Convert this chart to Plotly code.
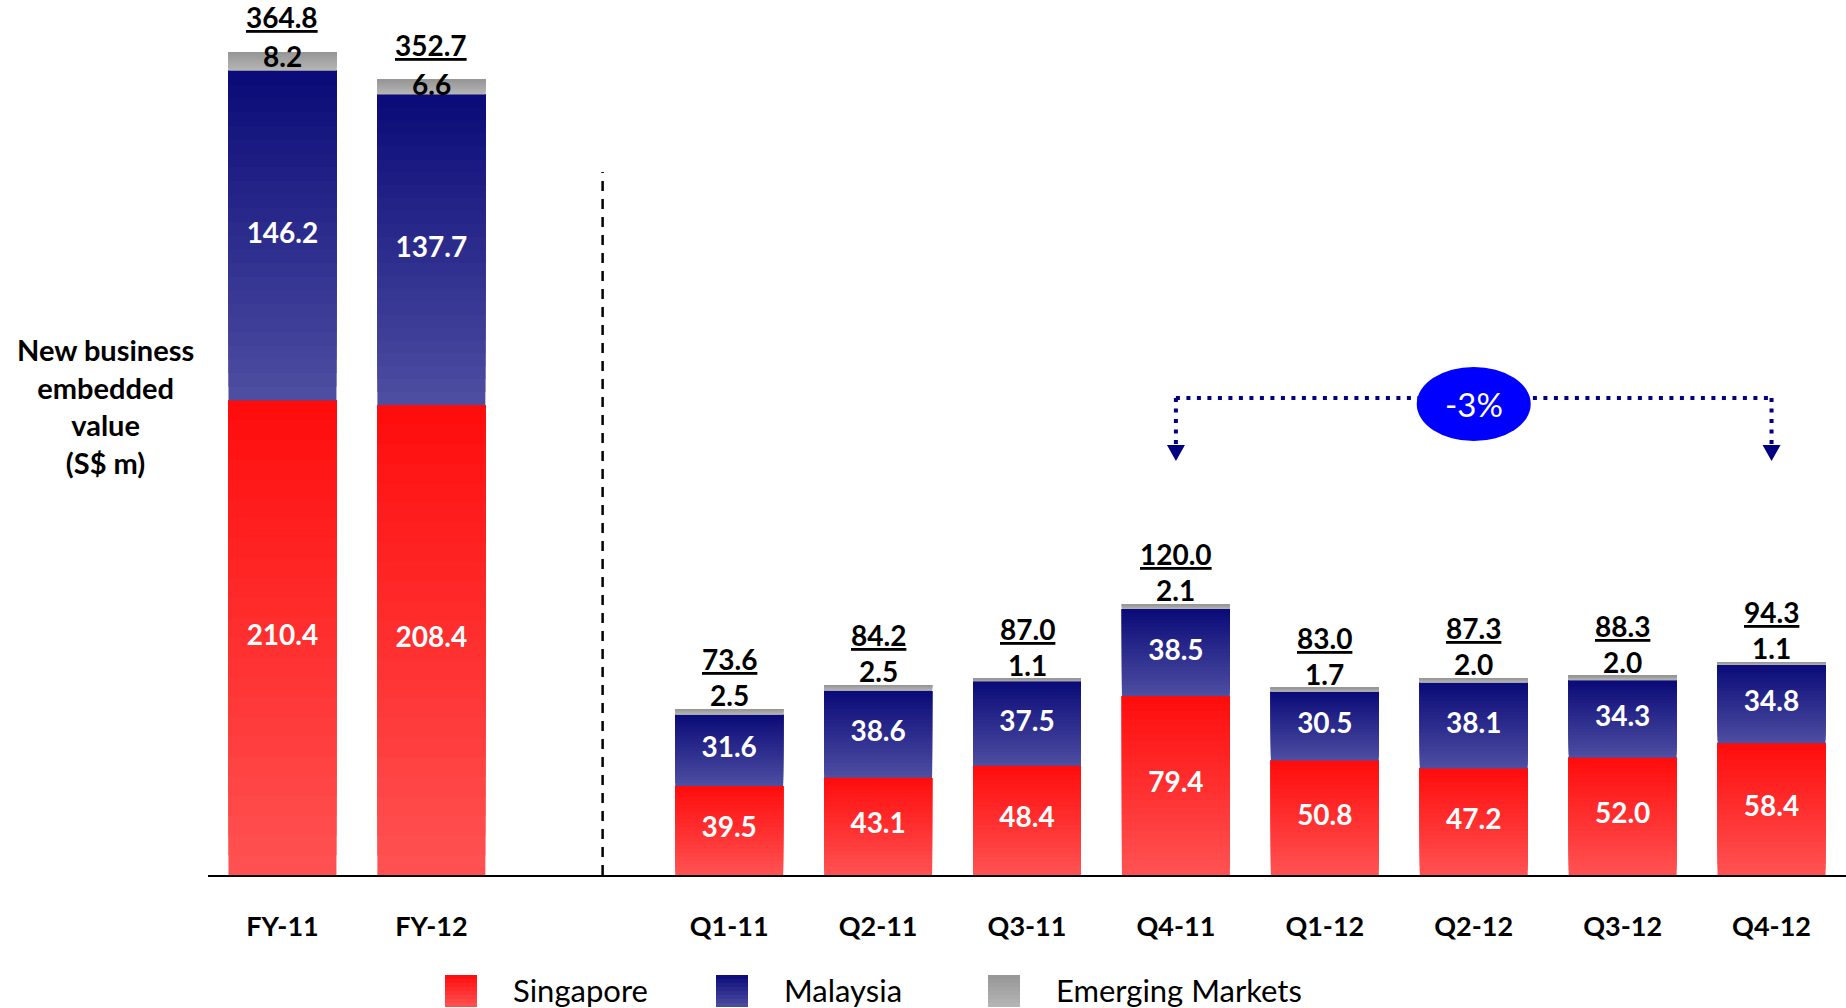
import plotly.graph_objects as go

# ---------------- data ----------------
fy_labels = ["FY-11", "FY-12"]
q_labels = ["Q1-11", "Q2-11", "Q3-11", "Q4-11", "Q1-12", "Q2-12", "Q3-12", "Q4-12"]
categories = fy_labels + q_labels

singapore = [210.4, 208.4, 39.5, 43.1, 48.4, 79.4, 50.8, 47.2, 52.0, 58.4]
malaysia = [146.2, 137.7, 31.6, 38.6, 37.5, 38.5, 30.5, 38.1, 34.3, 34.8]
emerging = [8.2, 6.6, 2.5, 2.5, 1.1, 2.1, 1.7, 2.0, 2.0, 1.1]
totals = [364.8, 352.7, 73.6, 84.2, 87.0, 120.0, 83.0, 87.3, 88.3, 94.3]

series_names = ["Singapore", "Malaysia", "Emerging Markets"]
change_label = "-3%"
change_from = "Q4-11"
change_to = "Q4-12"
y_title = "New business<br>embedded<br>value<br>(S$ m)"

# ---------------- styling ----------------
W, H = 1846, 1008
ML, MR, MT, MB = 208, 0, 18, 133
PW, PH = W - ML - MR, H - MT - MB
FONT = "Lato"
grad = {  # (top colour, bottom colour)
    "Singapore": ((255, 12, 12), (255, 82, 82)),
    "Malaysia": ((10, 10, 120), (78, 78, 162)),
    "Emerging Markets": ((150, 150, 150), (182, 182, 182)),
}
NSLICE = 24

# x positions: FY group, one empty slot, then the quarters
x_pos = list(range(len(fy_labels))) + [len(fy_labels) + 1 + i for i in range(len(q_labels))]
pos_of = dict(zip(categories, x_pos))


def mix(c_bot, c_top, f):
    return "rgb(%d,%d,%d)" % tuple(round(b + (t - b) * f) for b, t in zip(c_bot, c_top))


def px_to_paper_x(px):
    return (px - ML) / PW


def px_to_paper_y(py):
    return (H - MB - py) / PH


fig = go.Figure()

# gradient bars: each slice runs from its start to the segment top, later slices overlay earlier ones
bases = [0.0] * len(categories)
for name, vals in zip(series_names, [singapore, malaysia, emerging]):
    ctop, cbot = grad[name]
    for k in range(NSLICE):
        f = (k + 0.5) / NSLICE
        fig.add_trace(go.Bar(
            x=x_pos,
            y=[v * (NSLICE - k) / NSLICE for v in vals],
            base=[b + v * k / NSLICE for b, v in zip(bases, vals)],
            marker=dict(color=mix(cbot, ctop, f), line=dict(width=0)),
            showlegend=False, hoverinfo="skip",
        ))
    bases = [b + v for b, v in zip(bases, vals)]

# inside labels (white)
lab_font = dict(family=FONT, size=28, color="white", weight="bold")
fig.add_trace(go.Scatter(
    x=x_pos, y=[s / 2 for s in singapore], mode="text",
    text=["%.1f" % v for v in singapore], textfont=lab_font,
    showlegend=False, hoverinfo="skip"))
fig.add_trace(go.Scatter(
    x=x_pos, y=[s + m / 2 for s, m in zip(singapore, malaysia)], mode="text",
    text=["%.1f" % v for v in malaysia], textfont=lab_font,
    showlegend=False, hoverinfo="skip"))

annotations = []
for i, (xp, e, t) in enumerate(zip(x_pos, emerging, totals)):
    is_fy = i < len(fy_labels)
    g_shift = -4 if is_fy else 14
    t_shift = 35 if is_fy else 50
    annotations.append(dict(
        x=xp, y=bases[i], xref="x", yref="y", text="<b>%.1f</b>" % e, showarrow=False,
        yanchor="middle", yshift=g_shift,
        font=dict(family=FONT, size=28, color="black")))
    annotations.append(dict(
        x=xp, y=bases[i], xref="x", yref="y", text="<b><u>%.1f</u></b>" % t, showarrow=False,
        yanchor="middle", yshift=t_shift,
        font=dict(family=FONT, size=28, color="black")))

# y-axis title
annotations.append(dict(
    x=px_to_paper_x(105), y=px_to_paper_y(406), xref="paper", yref="paper",
    text="<b>" + y_title + "</b>", showarrow=False, xanchor="center", yanchor="middle",
    align="center", font=dict(family=FONT, size=29, color="black")))

shapes = []
# dashed separator
sep_x = (pos_of[fy_labels[-1]] + pos_of[q_labels[0]]) / 2 + 0.15
shapes.append(dict(type="line", xref="x", yref="paper", x0=sep_x, x1=sep_x,
                   y0=0, y1=px_to_paper_y(172),
                   line=dict(color="black", width=2.5, dash="10px,8px")))

# change bracket
xa, xb = pos_of[change_from], pos_of[change_to]
y_top = px_to_paper_y(398)
y_end = px_to_paper_y(446)
for xx in (xa, xb):
    shapes.append(dict(type="line", xref="x", yref="paper", x0=xx, x1=xx, y0=y_top, y1=y_end,
                       line=dict(color="#000080", width=4, dash="4px,6.5px")))
    shapes.append(dict(type="path", xref="x", yref="paper", xsizemode="pixel", ysizemode="pixel",
                       xanchor=xx, yanchor=px_to_paper_y(461),
                       path="M0,0 L-9,16 L9,16 Z", fillcolor="#000080", line=dict(width=0)))
shapes.append(dict(type="line", xref="x", yref="paper", x0=xa, x1=xb, y0=y_top, y1=y_top,
                   line=dict(color="#000080", width=4, dash="4px,6.5px")))
xm = (xa + xb) / 2
shapes.append(dict(type="circle", xref="x", yref="paper", xsizemode="pixel", ysizemode="pixel",
                   xanchor=xm, yanchor=px_to_paper_y(404),
                   x0=-57, x1=57, y0=-37, y1=37, fillcolor="#0000FF", line=dict(width=0)))
annotations.append(dict(x=xm, y=px_to_paper_y(404), xref="x", yref="paper", text=change_label,
                        showarrow=False, xanchor="center", yanchor="middle",
                        font=dict(family=FONT, size=33, color="white")))

# custom legend with gradient swatches
leg_x = [445, 716, 988]
for name, lx in zip(series_names, leg_x):
    ctop, cbot = grad[name]
    n = 8
    for k in range(n):
        y0p = 975 + 32 * k / n
        shapes.append(dict(type="rect", xref="paper", yref="paper",
                           x0=px_to_paper_x(lx), x1=px_to_paper_x(lx + 32),
                           y0=px_to_paper_y(1007), y1=px_to_paper_y(y0p),
                           fillcolor=mix(cbot, ctop, 1 - (k + 0.5) / n), line=dict(width=0)))
    annotations.append(dict(x=px_to_paper_x(lx + 66), y=px_to_paper_y(990), xref="paper", yref="paper",
                            text=name, showarrow=False, xanchor="left", yanchor="middle",
                            font=dict(family=FONT, size=31, color="black")))

fig.update_layout(
    width=W, height=H, margin=dict(l=ML, r=MR, t=MT, b=MB),
    barmode="overlay", bargap=0.275,
    plot_bgcolor="white", paper_bgcolor="white",
    showlegend=False,
    shapes=shapes, annotations=annotations,
    xaxis=dict(range=[-0.5, len(categories) + 0.5], tickvals=x_pos, ticktext=categories,
               showgrid=False, zeroline=False, showline=True, linecolor="black", linewidth=2,
               ticks="", ticklabelstandoff=27,
               tickfont=dict(family=FONT, size=27, color="black", weight="bold")),
    yaxis=dict(range=[0, 380], visible=False, showgrid=False, zeroline=False),
)

fig.write_html("out.html", config={"displayModeBar": False},
               post_script="document.body.style.margin='0';document.body.style.overflow='hidden';")
